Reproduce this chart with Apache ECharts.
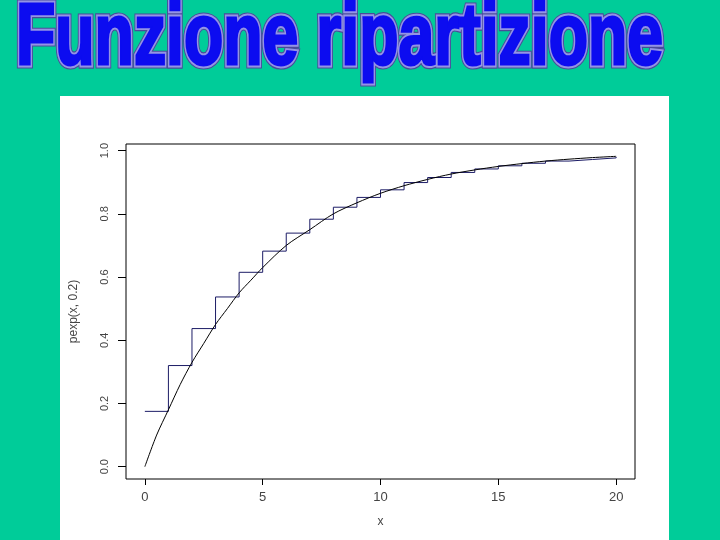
<!DOCTYPE html>
<html>
<head>
<meta charset="utf-8">
<script src="https://cdn.jsdelivr.net/npm/echarts@6/dist/echarts.min.js"></script>
<style>html,body{margin:0;padding:0;background:#00CC99;}#c{width:720px;height:540px;}</style>
</head>
<body>
<div id="c"></div>
<script>
// ---- data ----
var titleText = "Funzione ripartizione";
var xTicks = [0, 5, 10, 15, 20];
var yTicks = [0, 0.2, 0.4, 0.6, 0.8, 1.0];
var xName = "x";
var yName = "pexp(x, 0.2)";

// smooth curve (black)
var curveX = [0, 0.5, 1, 1.5, 2, 2.5, 3, 3.5, 4, 4.5, 5, 6, 7, 8, 9, 10, 11, 12, 13, 14, 15, 16, 17, 18, 19, 20];
var curveY = [0.00, 0.10, 0.18, 0.26, 0.33, 0.39, 0.45, 0.50, 0.55, 0.59, 0.63, 0.70, 0.75, 0.80, 0.835, 0.865, 0.889, 0.909, 0.926, 0.939, 0.950, 0.959, 0.967, 0.973, 0.978, 0.982];

// step function (navy)
var stepX = [0, 1, 2, 3, 4, 5, 6, 7, 8, 9, 10, 11, 12, 13, 14, 15, 16, 17, 18, 19, 20];
var stepY = [0.175, 0.32, 0.437, 0.537, 0.615, 0.682, 0.739, 0.783, 0.821, 0.852, 0.876, 0.899, 0.915, 0.931, 0.942, 0.952, 0.960, 0.967, 0.972, 0.977, 0.980];

function pairs(xs, ys) { return xs.map(function (x, i) { return [x, ys[i]]; }); }

var chart = echarts.init(document.getElementById('c'), null, {renderer: 'canvas'});

function titleLayer(fill, stroke, lw, z) {
  return {
    type: 'text', x: 16, y: 40, scaleX: 0.715, scaleY: 0.97, z: z,
    style: {
      text: titleText,
      fontFamily: 'Liberation Sans', fontWeight: 'bold', fontSize: 90,
      fill: fill, stroke: stroke, lineWidth: lw,
      textAlign: 'left', align: 'left', textVerticalAlign: 'middle', verticalAlign: 'middle'
    }
  };
}

var option = {
  backgroundColor: '#00CC99',
  animation: false,
  graphic: [
    { type: 'rect', shape: { x: 60, y: 96, width: 609, height: 444 }, style: { fill: '#ffffff' }, z: -10, silent: true },
    titleLayer('#4a4a9a', '#4a4a9a', 9.5, 1),
    titleLayer('#9494e4', '#9494e4', 7, 2),
    titleLayer('#0c0cf0', '#0c0cf0', 3, 3)
  ],
  grid: {
    left: 126, right: 85, top: 144, bottom: 61,
    show: true, borderColor: '#000', borderWidth: 1, backgroundColor: 'transparent',
    containLabel: false, outerBoundsMode: 'none'
  },
  xAxis: {
    type: 'value', min: -0.8, max: 20.8,
    name: xName, nameLocation: 'middle', nameGap: 37,
    nameTextStyle: { fontFamily: 'Liberation Sans', fontSize: 12, color: '#444' },
    axisLine: { show: false, onZero: false },
    splitLine: { show: false },
    axisTick: { show: true, length: 6, customValues: xTicks, lineStyle: { color: '#000', width: 1 } },
    axisLabel: { customValues: xTicks, margin: 12, fontFamily: 'Liberation Sans', fontSize: 13, color: '#444',
      formatter: function (v) { return String(v); } }
  },
  yAxis: {
    type: 'value', min: -0.039, max: 1.021,
    name: yName, nameLocation: 'middle', nameGap: 46, nameRotate: 90,
    nameTextStyle: { fontFamily: 'Liberation Sans', fontSize: 12, color: '#444' },
    axisLine: { show: false, onZero: false },
    splitLine: { show: false },
    axisTick: { show: true, length: 8, customValues: yTicks, lineStyle: { color: '#000', width: 1 } },
    axisLabel: { customValues: yTicks, margin: 16, rotate: 90, fontFamily: 'Liberation Sans', fontSize: 11, color: '#444',
      formatter: function (v) { return v.toFixed(1); } }
  },
  series: [
    {
      type: 'line', data: pairs(stepX, stepY), step: 'end', showSymbol: false, symbol: 'none',
      lineStyle: { color: '#1c1c66', width: 1 }, z: 3
    },
    {
      type: 'line', data: pairs(curveX, curveY), smooth: 0.3, showSymbol: false, symbol: 'none',
      lineStyle: { color: '#000000', width: 1 }, z: 4
    }
  ]
};
chart.setOption(option);
</script>
</body>
</html>
